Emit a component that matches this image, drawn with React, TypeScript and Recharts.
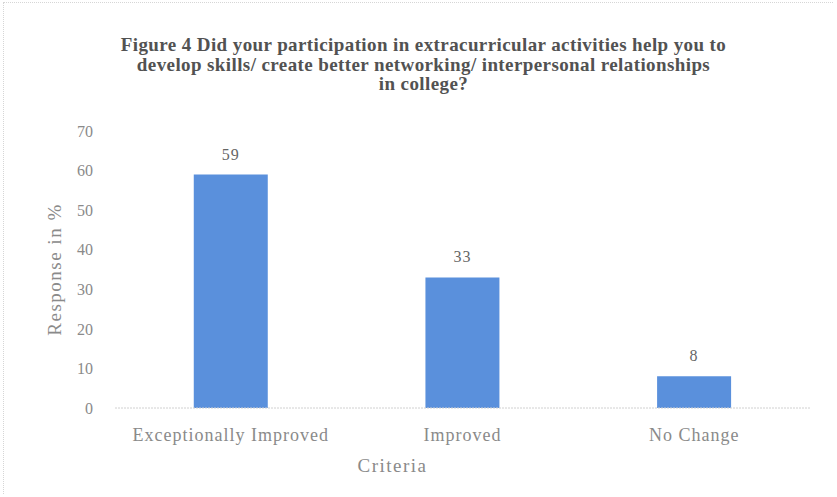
import { BarChart, Bar, XAxis, YAxis, LabelList } from 'recharts';

const categories = ['Exceptionally Improved', 'Improved', 'No Change'];
const responses = [59, 33, 8];
const yTicks = [0, 10, 20, 30, 40, 50, 60, 70];

const titleLines = [
  'Figure 4 Did your participation in extracurricular activities help you to',
  'develop skills/ create better networking/ interpersonal relationships',
  'in college?',
];

const data = categories.map((name, i) => ({ name, value: responses[i] }));

const serif = '"Liberation Serif", "DejaVu Serif", serif';
const textGray = '#8a8a8a';

export default function App() {
  return (
    <div
      style={{
        position: 'absolute',
        top: 0,
        left: 0,
        width: 837,
        height: 497,
        background: '#fff',
        fontFamily: serif,
      }}
    >
      <div
        style={{
          position: 'absolute',
          top: 2,
          left: 3,
          width: 830,
          height: 492,
          borderTop: '1px dotted #d6d6d6',
          borderLeft: '1px dotted #d6d6d6',
          boxSizing: 'border-box',
        }}
      />
      <div
        style={{
          position: 'absolute',
          top: 35,
          left: 5,
          width: 837,
          textAlign: 'center',
          fontWeight: 'bold',
          fontFamily: serif,
          fontSize: 19,
          letterSpacing: 0.4,
          lineHeight: '19.5px',
          color: '#525252',
        }}
      >
        {titleLines.map((t) => (
          <div key={t}>{t}</div>
        ))}
      </div>
      <BarChart
        width={837}
        height={497}
        data={data}
        margin={{ top: 131, right: 27, bottom: 23, left: 45 }}
        barCategoryGap="34%"
        style={{ position: 'absolute', top: 0, left: 0 }}
      >
        <XAxis
          dataKey="name"
          tickLine={false}
          tickSize={0}
          axisLine={{ stroke: '#d0d0d0', strokeDasharray: '2 1' }}
          tick={{ fontSize: 18, fill: textGray, fontFamily: serif, letterSpacing: 1 }}
          tickMargin={20}
          height={66}
          label={{
            value: 'Criteria',
            position: 'insideBottom',
            offset: 2,
            dx: -70,
            fontSize: 19,
            letterSpacing: 1.5,
            fill: textGray,
            fontFamily: serif,
          }}
        />
        <YAxis
          domain={[0, 70]}
          ticks={yTicks}
          interval={0}
          tickLine={false}
          axisLine={false}
          tickSize={0}
          tickMargin={22}
          width={70}
          tick={{ fontSize: 16, fill: textGray, fontFamily: serif }}
          label={{
            value: 'Response in %',
            angle: -90,
            position: 'insideLeft',
            offset: 0,
            dx: 9,
            fontSize: 19,
            letterSpacing: 1.5,
            fill: textGray,
            fontFamily: serif,
            style: { textAnchor: 'middle' },
          }}
        />
        <Bar dataKey="value" fill="#5a90dc" isAnimationActive={false}>
          <LabelList
            dataKey="value"
            position="top"
            offset={15}
            style={{ fontSize: 16, fill: '#666', fontFamily: serif, letterSpacing: 1 }}
          />
        </Bar>
      </BarChart>
    </div>
  );
}
